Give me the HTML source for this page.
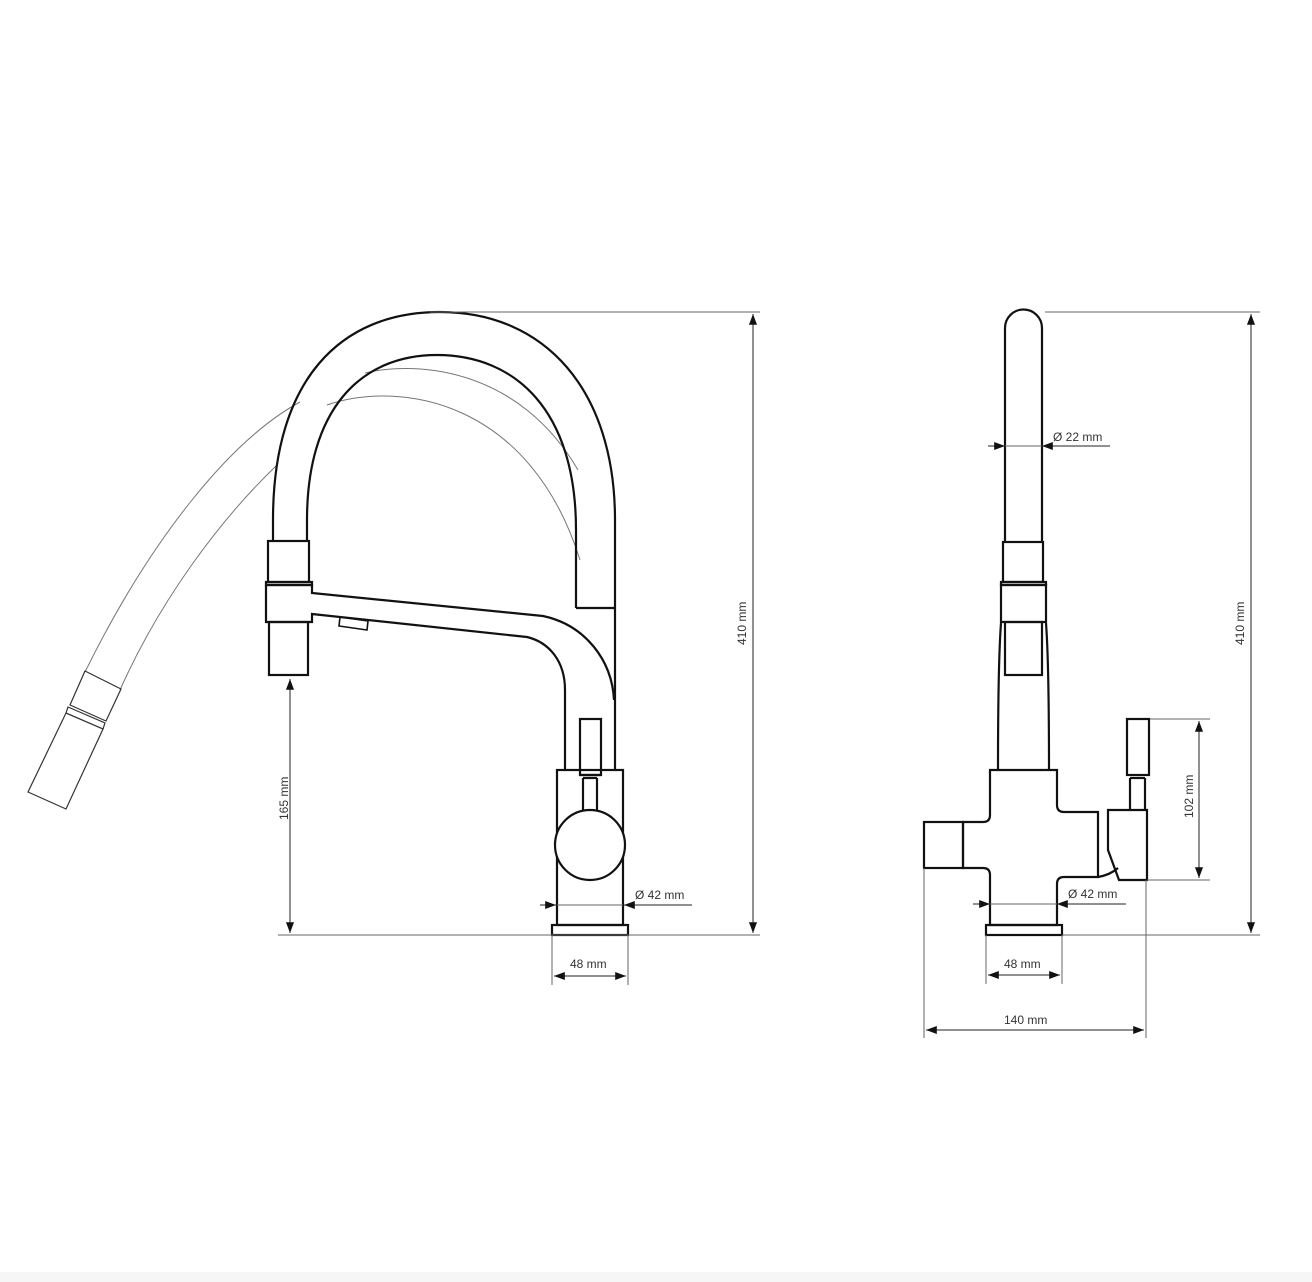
<!DOCTYPE html>
<html><head><meta charset="utf-8"><style>
html,body{margin:0;padding:0;background:#fff;}
svg{display:block;}
text{font-family:"Liberation Sans",sans-serif;font-size:12px;fill:#333;}
</style></head><body>
<svg width="1312" height="1282" viewBox="0 0 1312 1282" xmlns="http://www.w3.org/2000/svg">
<defs>
<marker id="a" viewBox="0 0 12 10" refX="12" refY="5" markerWidth="12" markerHeight="9" orient="auto-start-reverse" markerUnits="userSpaceOnUse"><path d="M0,0.5 L12,5 L0,9.5 Z" fill="#111"/></marker>
</defs>
<rect x="0" y="1272" width="1312" height="10" fill="#f6f6f6"/>
<g fill="none" stroke="#777" stroke-width="1">
<path d="M300,402 C230,440 150,540 85,672"/>
<path d="M276,466 C220,520 160,600 120,690"/>
<path d="M365,373 C420,360 520,370 578,470"/>
<path d="M327,405 C400,380 530,400 580,560"/>
</g>
<g fill="none" stroke="#333" stroke-width="1.2">
<path d="M85,671 L121,689 L106,721 L70,705 Z"/>
<path d="M68,707 L105,723 L103,729 L66,713 Z"/>
<path d="M66,713 L103,729 L66,809 L28,792 Z"/>
</g>
<g fill="none" stroke="#111" stroke-width="2.2">
<path d="M273,541 L273,520 C273,380 340,312 440,312 C545,312 615,390 615,520 L615,770"/>
<path d="M307,541 L307,520 C307,410 360,355 437,355 C515,355 576,410 576,530 L576,608"/>
<line x1="576" y1="608" x2="615" y2="608"/>
<rect x="268" y="541" width="41" height="41"/>
<rect x="266" y="582" width="46" height="3"/>
<path d="M266,585 L312,585 L312,593 L543,616 C585,625 612,660 614,700"/>
<path d="M266,585 L266,622 L312,622 L312,614 L527,637 C548,642 565,660 565,690 L565,770"/>
<rect x="269" y="622" width="39" height="53"/>
<path d="M340,617 L368,621 L367,630 L339,626 Z" stroke-width="1.6"/>
<rect x="557" y="770" width="66" height="155"/>
<rect x="552" y="925" width="76" height="10"/>
<rect x="580" y="719" width="21" height="56"/>
<line x1="583" y1="778" x2="583" y2="812"/><line x1="597" y1="778" x2="597" y2="812"/>
<line x1="580" y1="775" x2="601" y2="775"/><line x1="583" y1="778" x2="597" y2="778"/>
<circle cx="590" cy="845" r="35" fill="#fff"/>
</g>
<g stroke="#666" stroke-width="1" fill="none">
<line x1="278" y1="935" x2="760" y2="935"/>
<line x1="430" y1="312" x2="760" y2="312"/>
<line x1="290" y1="679" x2="290" y2="933" stroke="#222" marker-start="url(#a)" marker-end="url(#a)"/>
<line x1="753" y1="314" x2="753" y2="933" stroke="#222" marker-start="url(#a)" marker-end="url(#a)"/>
<line x1="540" y1="905" x2="556" y2="905" stroke="#222" marker-end="url(#a)"/>
<line x1="692" y1="905" x2="624" y2="905" stroke="#222" marker-end="url(#a)"/>
<line x1="557" y1="905" x2="623" y2="905"/>
<line x1="552" y1="935" x2="552" y2="985"/><line x1="628" y1="935" x2="628" y2="985"/>
<line x1="554" y1="976" x2="626" y2="976" stroke="#222" marker-start="url(#a)" marker-end="url(#a)"/>
</g>
<text x="635" y="899">Ø 42 mm</text>
<text x="570" y="968">48 mm</text>
<text transform="translate(288,820) rotate(-90)">165 mm</text>
<text transform="translate(746,645) rotate(-90)">410 mm</text>
<g fill="none" stroke="#111" stroke-width="2.2">
<path d="M1005,542 L1005,328 A18,18 0 0 1 1042,328 L1042,542"/>
<rect x="1003" y="542" width="40" height="40"/>
<rect x="1001" y="582" width="45" height="3"/>
<rect x="1001" y="585" width="45" height="37"/>
<rect x="1005" y="622" width="37" height="53"/>
<path d="M1001,623 C999,650 998,700 998,770"/>
<path d="M1046,623 C1048,650 1049,700 1049,770"/>
<path d="M990,770 L1057,770 L1057,805 Q1057,812 1064,812 L1098,812 L1098,877 L1064,877 Q1057,877 1057,884 L1057,925 L990,925 L990,875 Q990,868 983,868 L963,868 L963,822 L983,822 Q990,822 990,815 Z"/>
<rect x="924" y="822" width="39" height="46"/>
<path d="M1098,877 Q1110,875 1118,868"/>
<path d="M1108,810 L1147,810 L1147,880 L1119,880 L1108,850 Z"/>
<rect x="1127" y="719" width="22" height="56"/>
<line x1="1130" y1="778" x2="1130" y2="810"/><line x1="1145" y1="778" x2="1145" y2="810"/>
<line x1="1130" y1="778" x2="1145" y2="778"/>
<rect x="986" y="925" width="76" height="10"/>
</g>
<g stroke="#666" stroke-width="1" fill="none">
<line x1="1045" y1="312" x2="1260" y2="312"/>
<line x1="1062" y1="935" x2="1260" y2="935"/>
<line x1="1251" y1="314" x2="1251" y2="933" stroke="#222" marker-start="url(#a)" marker-end="url(#a)"/>
<line x1="1150" y1="719" x2="1210" y2="719"/>
<line x1="1147" y1="880" x2="1210" y2="880"/>
<line x1="1199" y1="721" x2="1199" y2="878" stroke="#222" marker-start="url(#a)" marker-end="url(#a)"/>
<line x1="988" y1="446" x2="1005" y2="446" stroke="#222" marker-end="url(#a)"/>
<line x1="1110" y1="446" x2="1042" y2="446" stroke="#222" marker-end="url(#a)"/>
<line x1="1005" y1="446" x2="1042" y2="446"/>
<line x1="973" y1="904" x2="990" y2="904" stroke="#222" marker-end="url(#a)"/>
<line x1="1126" y1="904" x2="1057" y2="904" stroke="#222" marker-end="url(#a)"/>
<line x1="990" y1="904" x2="1057" y2="904"/>
<line x1="986" y1="935" x2="986" y2="984"/><line x1="1062" y1="935" x2="1062" y2="984"/>
<line x1="988" y1="975" x2="1060" y2="975" stroke="#222" marker-start="url(#a)" marker-end="url(#a)"/>
<line x1="924" y1="868" x2="924" y2="1038"/><line x1="1146" y1="880" x2="1146" y2="1038"/>
<line x1="926" y1="1030" x2="1144" y2="1030" stroke="#222" marker-start="url(#a)" marker-end="url(#a)"/>
</g>
<text x="1053" y="441">Ø 22 mm</text>
<text x="1068" y="898">Ø 42 mm</text>
<text x="1004" y="968">48 mm</text>
<text x="1004" y="1024">140 mm</text>
<text transform="translate(1193,818) rotate(-90)">102 mm</text>
<text transform="translate(1244,645) rotate(-90)">410 mm</text>
</svg>
</body></html>
